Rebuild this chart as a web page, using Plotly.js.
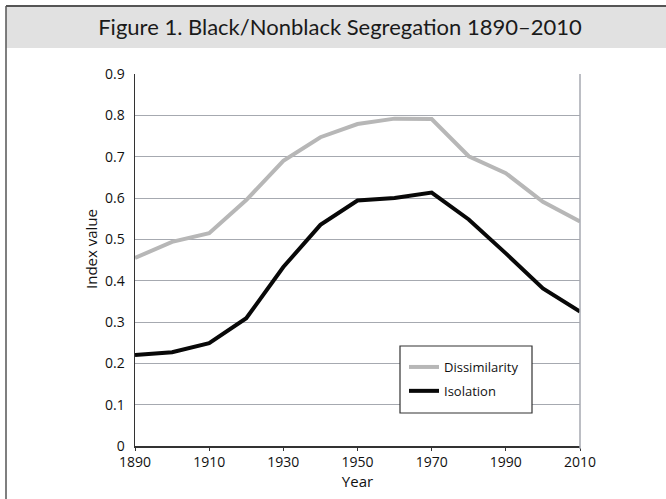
<!DOCTYPE html>
<html>
<head>
<meta charset="utf-8">
<script src="https://cdn.plot.ly/plotly-3.0.1.min.js"></script>
<style>
html,body{margin:0;padding:0;background:#fff;}
#chart{width:666px;height:499px;}
</style>
</head>
<body>
<div id="chart"></div>
<script>
const years = [1890,1900,1910,1920,1930,1940,1950,1960,1970,1980,1990,2000,2010];
const dissimilarity = [0.455,0.494,0.515,0.595,0.690,0.747,0.779,0.792,0.791,0.701,0.660,0.591,0.543];
const isolation = [0.220,0.227,0.249,0.309,0.433,0.535,0.594,0.600,0.613,0.548,0.466,0.381,0.325];
const xTicks = [1890,1910,1930,1950,1970,1990,2010];
const yTicks = [0,0.1,0.2,0.3,0.4,0.5,0.6,0.7,0.8,0.9];
const yTickText = ['0','0.1','0.2','0.3','0.4','0.5','0.6','0.7','0.8','0.9'];

// plot area geometry in pixels
const W = 666, H = 499;
const L = 135, R = 86, T = 74, B = 53;
const pw = W - L - R, ph = H - T - B;
const px = x => (x - L) / pw;
const py = y => (H - B - y) / ph;

const font = 'Open Sans, Liberation Sans, sans-serif';

const traces = [
  {x: years, y: dissimilarity, name: 'Dissimilarity', mode: 'lines', type: 'scatter',
   line: {color: '#b7b7b7', width: 4}, legendgroup: 'a'},
  {x: years, y: isolation, name: 'Isolation', mode: 'lines', type: 'scatter',
   line: {color: '#080808', width: 4}, legendgroup: 'b'}
];

const layout = {
  width: W, height: H,
  margin: {l: L, r: R, t: T, b: B, pad: 0},
  paper_bgcolor: '#ffffff', plot_bgcolor: '#ffffff',
  showlegend: true,
  title: {text: 'Figure 1. Black/Nonblack Segregation 1890–2010',
          font: {family: 'Lato, Open Sans, sans-serif', size: 22, color: '#1a1a1a'},
          x: px(340), xanchor: 'center', xref: 'paper',
          y: 1 - 27 / H, yanchor: 'middle', yref: 'container'},
  xaxis: {range: [1890, 2010], tickvals: xTicks, ticktext: xTicks.map(String),
          showgrid: false, zeroline: false, showline: true, linecolor: '#333', linewidth: 1.5,
          ticks: 'outside', ticklen: 3, tickcolor: '#333',
          tickfont: {family: font, size: 14, color: '#111'},
          title: {text: 'Year', font: {family: font, size: 15, color: '#111'}, standoff: 3}},
  yaxis: {range: [0, 0.9], tickvals: yTicks, ticktext: yTickText,
          showgrid: true, gridcolor: '#a6a9b0', gridwidth: 1, zeroline: false,
          showline: true, linecolor: '#333', linewidth: 1.5, ticks: '',
          tickfont: {family: font, size: 14, color: '#111'}, ticklabelstandoff: 6},
  legend: {x: px(404), y: py(352), xanchor: 'left', yanchor: 'top',
           bgcolor: 'rgba(0,0,0,0)', borderwidth: 0,
           font: {family: font, size: 13, color: '#111'},
           traceorder: 'grouped', tracegroupgap: 4, itemwidth: 30},
  annotations: [
    {text: 'Index value', textangle: -90, xref: 'paper', yref: 'paper',
     x: px(91), y: py(249), xanchor: 'center', yanchor: 'middle', showarrow: false,
     font: {family: font, size: 15, color: '#111'}}
  ],
  shapes: [
    // title band
    {type: 'rect', xref: 'paper', yref: 'paper', x0: px(6), x1: px(666), y0: py(48), y1: py(6),
     fillcolor: '#e1e1e1', line: {width: 0}, layer: 'below'},
    // frame top
    {type: 'line', xref: 'paper', yref: 'paper', x0: px(6), x1: px(666), y0: py(6), y1: py(6),
     line: {color: '#555', width: 2}},
    // frame left
    {type: 'line', xref: 'paper', yref: 'paper', x0: px(6), x1: px(6), y0: py(6), y1: py(499),
     line: {color: '#555', width: 1.5}},
    // right plot border
    {type: 'line', xref: 'paper', yref: 'paper', x0: 1, x1: 1, y0: py(449), y1: 1,
     line: {color: '#a6a9b0', width: 1.5}},
    // legend box
    {type: 'rect', xref: 'paper', yref: 'paper', x0: px(400), x1: px(532), y0: py(413), y1: py(346),
     fillcolor: '#ffffff', line: {color: '#333', width: 1.2}, layer: 'above'}
  ]
};

Plotly.newPlot('chart', traces, layout, {displayModeBar: false, staticPlot: true});
</script>
</body>
</html>
